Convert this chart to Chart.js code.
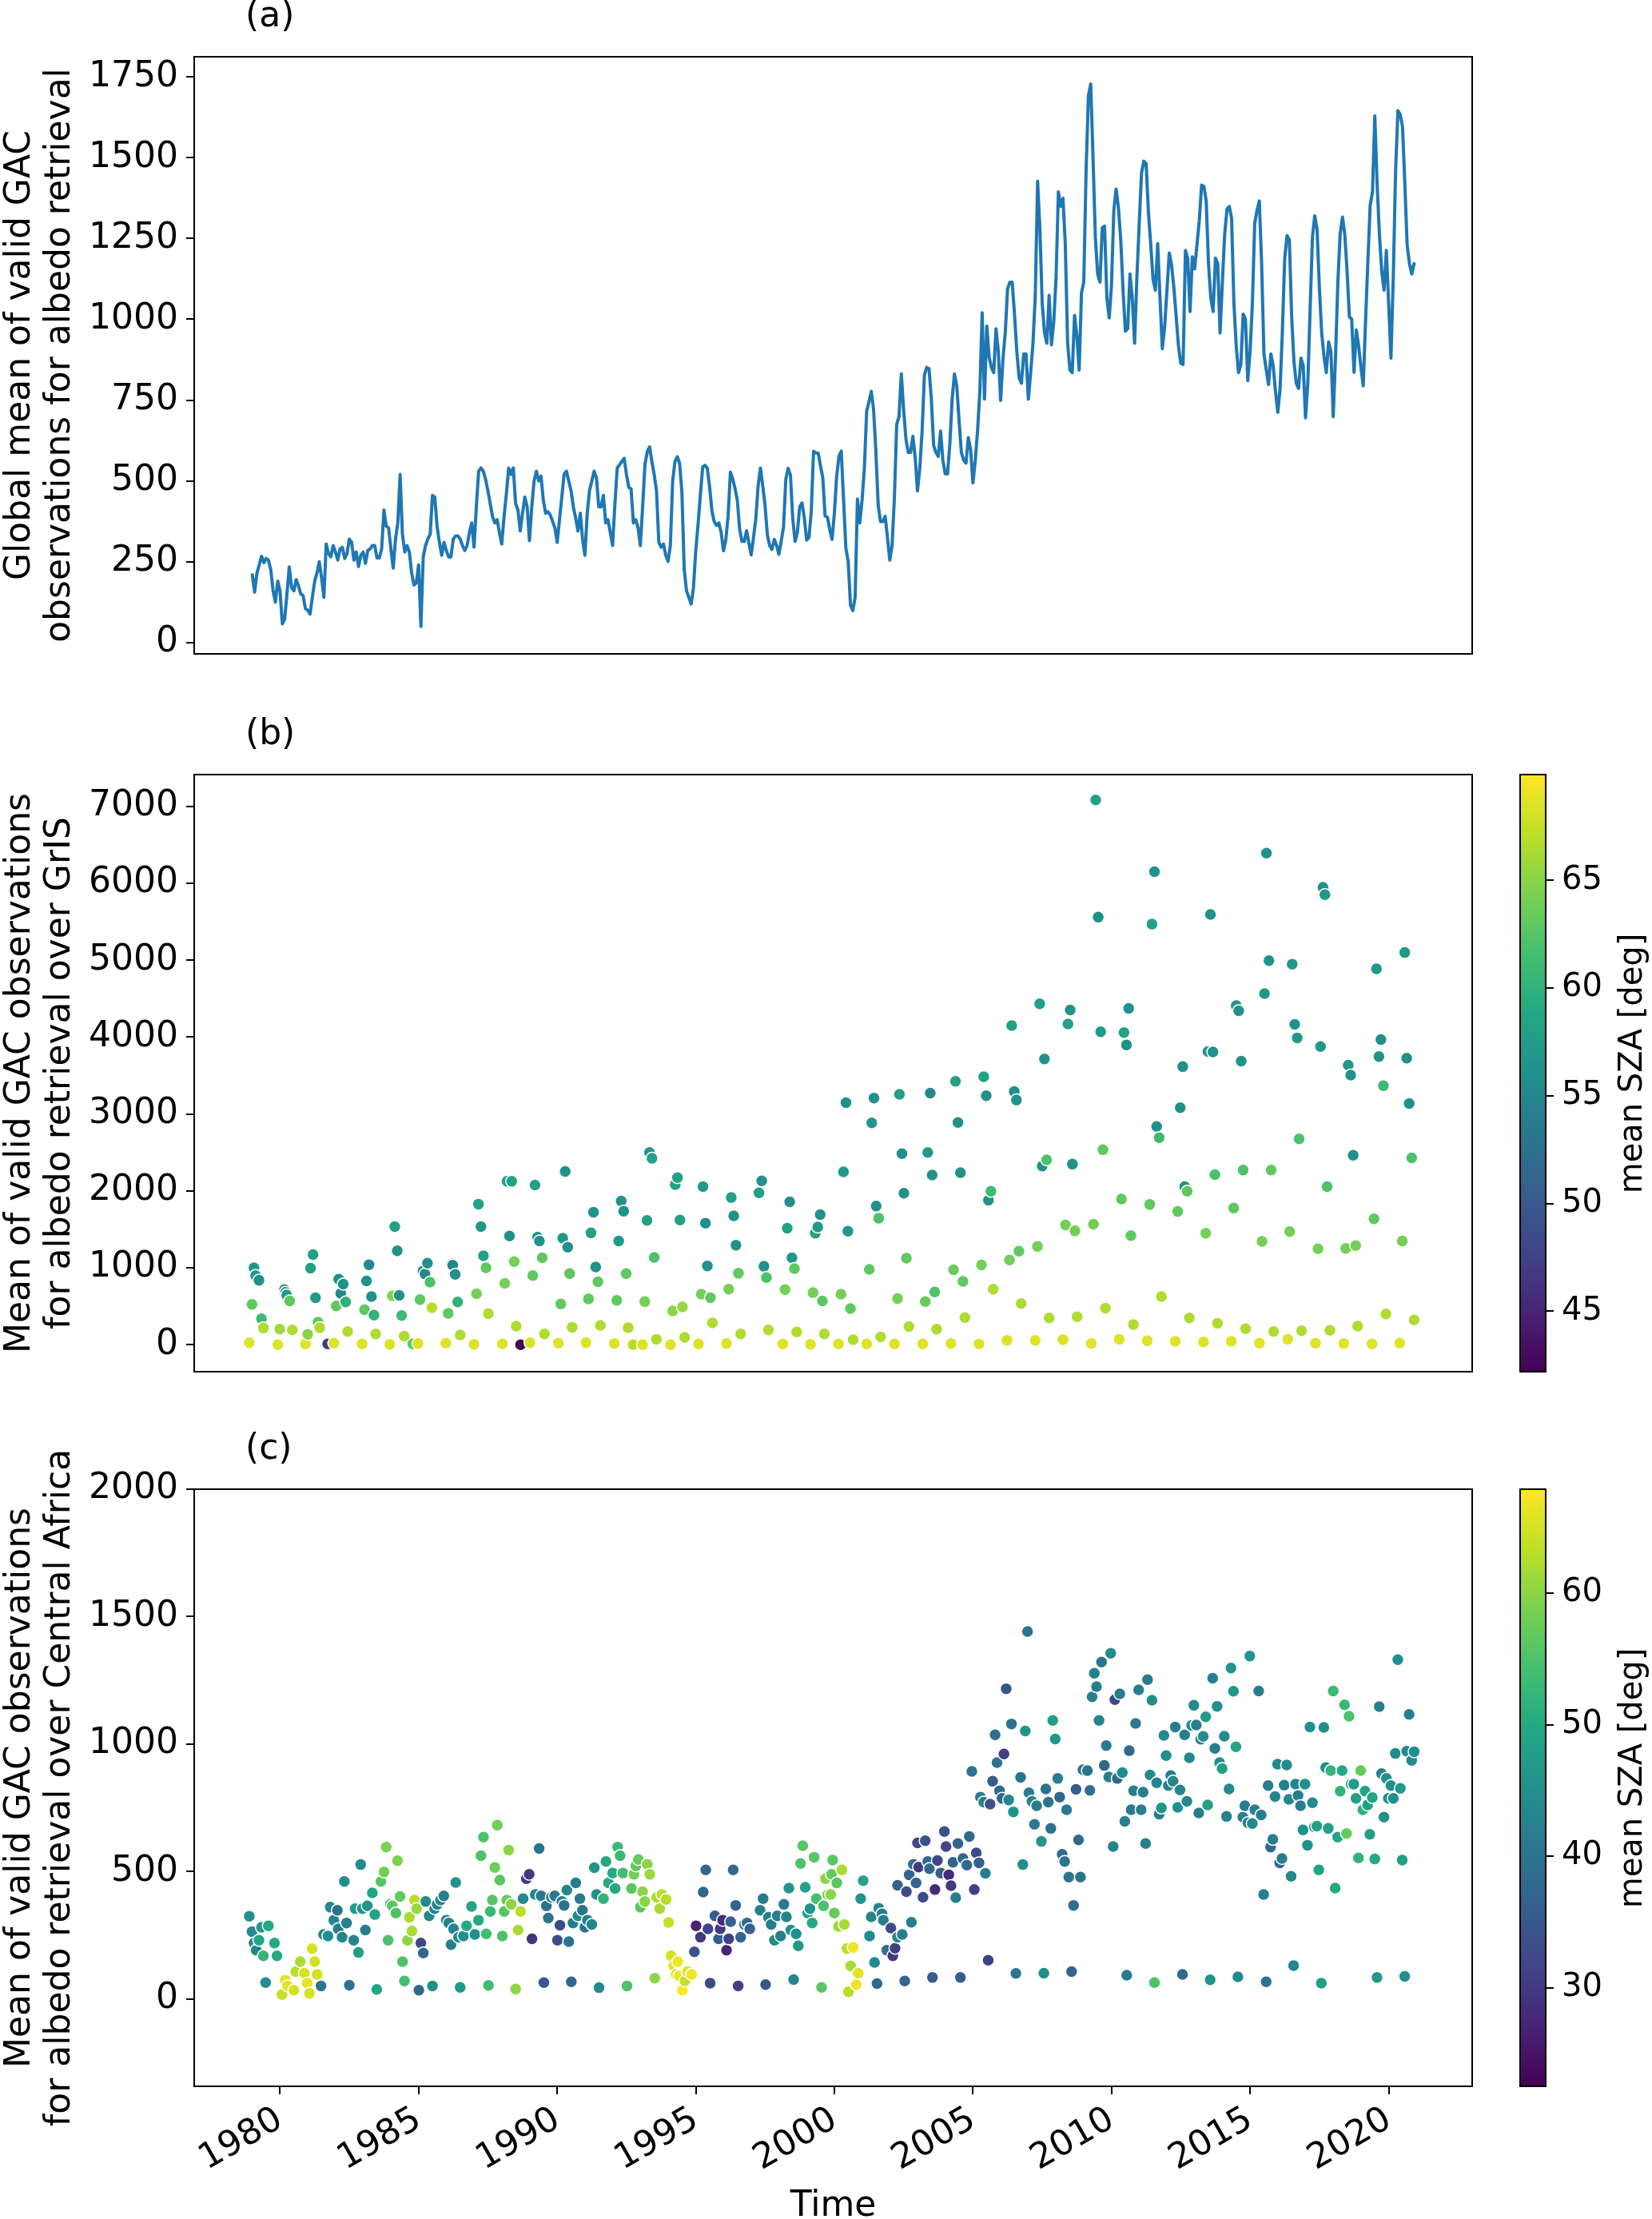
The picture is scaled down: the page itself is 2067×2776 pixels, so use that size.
<!DOCTYPE html>
<html>
<head>
<meta charset="utf-8">
<script src="https://cdn.jsdelivr.net/npm/chart.js@4.4.1/dist/chart.umd.min.js"></script>
<style>
  html, body { margin: 0; padding: 0; background: #fff; }
  body { width: 2067px; height: 2776px; position: relative; overflow: hidden; }
  canvas { position: absolute; }
</style>
</head>
<body>
<canvas id="panelA" width="1852" height="858" style="left:0;top:0"></canvas>
<canvas id="panelB" width="1852" height="876" style="left:0;top:880px"></canvas>
<canvas id="barB" width="187" height="876" style="left:1880px;top:880px"></canvas>
<canvas id="panelC" width="1852" height="1006" style="left:0;top:1770px"></canvas>
<canvas id="barC" width="187" height="1006" style="left:1880px;top:1770px"></canvas>
<script>
const FONT = 'DejaVu Sans';

// (a) global monthly mean, Jan 1979 .. Dec 2020
const startYear = 1979;
const globalCounts = [
  210,156,215,240,267,247,260,255,225,160, 125,190,160,58,72,150,234,170,160,195,
  175,150,145,105,100,88,140,190,215,250, 200,140,305,275,265,300,280,255,290,295,
  260,275,320,310,255,280,235,270,280,245, 285,290,300,300,262,262,290,410,360,355,
  290,230,320,370,520,335,280,300,280,215, 178,185,240,50,265,300,320,335,455,450,
  360,310,270,310,285,265,265,320,330,330, 320,300,285,300,340,370,295,420,530,540,
  530,505,470,430,390,370,380,340,305,390, 460,540,520,540,430,410,345,400,450,420,
  315,420,500,530,500,515,440,400,405,395, 375,355,310,380,450,520,530,500,470,420,
  385,345,400,320,270,400,470,500,530,510, 420,420,455,370,380,340,300,430,540,550,
  560,570,520,480,475,370,380,355,300,420, 550,590,605,560,520,470,310,295,305,270,
  251,300,500,560,575,
  555,465,226,160,140,119,169,284,366,457, 543,548,539,481,407,374,362,370,341,284,
  317,391,527,506,477,440,350,313,313,346, 308,271,325,383,485,540,485,424,333,300,
  288,319,300,273,313,358,506,539,518,383, 313,341,420,432,386,317,325,403,592,586,
  586,547,510,391,388,350,319,399,514,576, 592,440,292,251,115,99,140,444,370,440,
  539,716,745,777,720,588,424,374,374,391, 325,255,300,448,675,699,831,720,629,588,
  588,638,572,469,539,654,827,851,847,753, 609,588,576,654,564,522,522,613,753,831,
  794,687,588,564,555,634,597,494,561,654, 777,1020,753,979,884,851,835,971,901,749,
  876,958,1094,1115,1115,1016,901,819,802,893, 893,753,835,925,
  1074,1427,1279,1049,958,926,1074,921,991,
  1131,1394,1349,1374,1230,926,843,835,1012,950, 843,1082,1115,1460,1691,1728,1501,1254,1140,1115,
  1283,1288,1065,1004,1106,1337,1403,1345,1246,1090, 963,971,1140,1065,926,1131,1296,1452,1489,1481,
  1329,1230,1123,1090,1234,1065,909,975,1090,1205, 1168,1098,1008,917,864,860,1213,1189,1024,
  1193,1156,1230,1304,1415,1411,1366,1172,1065,1024, 1189,1172,958,1115,1263,1341,1349,1312,1049,
  917,835,860,1016,1000,810,901,1049,1296,1337, 1366,1172,893,843,798,893,856,777,712,786,
  967,1189,1259,1246,1008,868,802,786,880, 856,695,802,1032,1254,1320,1279,1098,958,885,
  835,930,901,699,885,1115,1263,1316,1263,1148, 1008,1000,836,967,917,851,794,995,1180,1353,
  1394,1629,1419,1263,1148,1090,1213,1049,880,1131, 1460,1645,1633,1596,1419,1230,1172,1140,1172
];

// (b) Greenland: time, count, mean SZA
const gisYear = [
  1978.89,1978.99,1979.06,1979.12,1979.24,1979.33,1979.40,
  1979.92,1979.99,1980.16,1980.20,1980.24,1980.35,1980.44,
  1980.92,1981.00,1981.10,1981.19,1981.28,1981.37,1981.43,
  1981.72,1981.94,1982.03,1982.12,1982.19,1982.28,1982.37,1982.44,
  1982.96,1983.05,1983.12,1983.21,1983.30,1983.39,1983.45,
  1983.96,1984.05,1984.14,1984.23,1984.30,1984.39,1984.48,
  1984.79,1984.98,1985.05,1985.16,1985.23,1985.32,1985.41,1985.48,
  1985.98,1986.07,1986.20,1986.23,1986.32,1986.41,1986.50,
  1987.00,1987.09,1987.16,1987.25,1987.34,1987.43,1987.52,
  1988.02,1988.11,1988.19,1988.28,1988.36,1988.45,1988.52,1988.68,
  1989.02,1989.12,1989.20,1989.29,1989.36,1989.46,1989.54,
  1990.04,1990.13,1990.20,1990.29,1990.38,1990.45,1990.54,
  1991.04,1991.13,1991.22,1991.31,1991.39,1991.47,1991.56,
  1992.06,1992.15,1992.22,1992.31,1992.40,1992.49,1992.56,1992.74,
  1993.08,1993.16,1993.24,1993.33,1993.42,1993.50,1993.58,
  1994.09,1994.17,1994.26,1994.34,1994.43,1994.52,1994.60,
  1995.10,1995.20,1995.26,1995.35,1995.42,1995.53,1995.60,
  1996.11,1996.19,1996.28,1996.37,1996.45,1996.54,1996.62,
  1997.28,1997.38,1997.46,1997.55,1997.62,
  1998.14,1998.22,1998.30,1998.39,1998.47,1998.56,1998.64,
  1999.14,1999.23,1999.31,1999.40,1999.49,1999.57,1999.64,
  2000.15,2000.24,2000.33,2000.42,2000.49,2000.58,2000.68,
  2001.17,2001.26,2001.35,2001.43,2001.51,2001.60,2001.67,
  2002.17,2002.28,2002.35,2002.44,2002.51,2002.60,2002.69,
  2003.19,2003.28,2003.37,2003.46,2003.53,2003.62,2003.69,
  2004.21,2004.30,2004.37,2004.46,2004.55,2004.64,2004.71,
  2005.22,2005.31,2005.39,2005.48,2005.56,2005.65,2005.73,
  2006.23,2006.32,2006.40,2006.49,2006.57,2006.66,2006.74,
  2007.25,2007.33,2007.41,2007.50,2007.58,2007.66,2007.75,
  2008.25,2008.34,2008.43,2008.51,2008.59,2008.68,2008.76,
  2009.27,2009.35,2009.43,2009.52,2009.61,2009.69,2009.78,
  2010.28,2010.36,2010.45,2010.54,2010.62,2010.70,2010.79,
  2011.29,2011.38,2011.46,2011.55,2011.63,2011.72,2011.80,
  2012.30,2012.39,2012.48,2012.57,2012.64,2012.73,2012.81,
  2013.32,2013.40,2013.48,2013.57,2013.66,2013.73,2013.82,
  2014.32,2014.41,2014.50,2014.59,2014.68,2014.75,2014.84,
  2015.34,2015.43,2015.52,2015.59,2015.68,2015.76,2015.85,
  2016.36,2016.43,2016.52,2016.61,2016.70,2016.77,2016.86,
  2017.36,2017.45,2017.54,2017.63,2017.70,2017.78,2017.88,
  2018.38,2018.45,2018.54,2018.63,2018.72,2018.81,2018.88,
  2019.40,2019.47,2019.56,2019.65,2019.72,2019.81,2019.90,
  2020.40,2020.49,2020.58,2020.65,2020.74,2020.83,2020.92
];
const gisCount = [
  25,525,1000,900,838,338,217,
  0,202,717,680,646,570,192,
  10,136,995,1172,611,293,222,
  10,20,505,853,667,788,556,172,
  10,455,828,1040,626,384,141,
  5,636,1535,1222,641,379,111,
  10,15,586,960,919,1060,813,480,
  20,409,1050,1035,914,556,126,
  5,662,1828,1535,1156,1000,404,
  10,798,2126,1414,2126,1081,242,0,
  25,899,2076,1399,1348,1131,141,
  20,530,1384,2252,1268,924,227,
  25,596,1454,1722,1010,818,252,
  15,576,1348,1868,1737,924,222,0,
  0,560,1616,2500,2424,1136,71,
  0,439,2081,2172,1621,490,96,
  10,657,2055,1581,1025,611,283,
  15,722,1914,1677,1293,929,141,
  1975,2131,1020,874,192,
  10,717,1515,1858,1131,990,167,
  5,677,1449,1530,1692,570,141,
  10,657,2247,3146,1475,470,66,
  10,979,2884,3207,1803,1646,101,
  10,601,3257,2485,1970,1126,237,
  10,561,2500,3272,2207,687,202,
  15,975,3424,2889,2237,823,354,
  10,1036,3485,3237,1879,1995,722,
  56,1101,4151,3293,3182,1217,535,
  56,1278,4434,2323,3717,2404,349,
  66,1556,4171,4353,2348,1480,364,
  15,1566,7085,5560,4070,2535,475,
  71,1894,4060,3899,4373,1419,263,
  51,1823,5469,6151,2838,2692,626,
  45,1732,3081,3616,2055,1995,348,
  35,1449,3813,5595,3808,2212,278,
  45,1778,4409,4343,3687,2272,207,
  20,1343,4565,6393,4994,2272,172,
  71,1470,4949,4166,3990,2677,182,
  20,1247,3878,5949,5853,2055,187,
  15,1252,3636,3505,2464,1288,242,
  10,1636,4888,3747,3969,3368,399,
  20,1348,5100,3727,3136,2429,323
];
const gisSza = [
  68.5,63,57,57,56,61,66.5,
  68.5,66,56,56,57,63,66.5,
  68.5,65,58,58,57,63,66.5,
  47,68.5,63,56,55,56,60,66.5,
  68.5,63,56,55,56,60,66.5,
  68.5,64.5,58,56,56,61,66.5,
  63,68.5,63,56,55,56,62,67,
  68.5,63,55,55,56,60,66.5,
  68.5,64,58,57,58,63,66.5,
  68.5,64,58,56,58,64,66.5,42.3,
  68.5,63,58,56,56,63,66.5,
  68.5,63,57,56,56,63,66.5,
  68.5,63,58,56,56,63,66.5,
  68.5,63,57,56,56,63,66.5,67,
  68.5,64,58,57,58,62,66.5,
  68.5,65,58,58,58,65.5,66.5,
  68.5,64,57,56,56,63,66.5,
  68.5,64,58,56,56,63,66.5,
  58,56,56,62,66.5,
  68.5,64,58,56,57,63,66.5,
  68.5,64,58,57,56,63,66.5,
  68.5,64,57,56,57,63,66.5,
  68.5,63,57,56,56,62,66.5,
  68.5,64,58,56,56,63,66.5,
  68.5,63.5,57,55,56,62,66.5,
  68.5,63.5,58,56,56,63,66.5,
  68.5,64,58,56,56,61,66.5,
  68.5,64,58,56,56,63,66.5,
  68.5,64,58,56,56,62,66.5,
  68.5,64,58,56,56,64,66.5,
  68.5,64,58,56,57,63,66.5,
  68.5,63,58,56,56,63,66.5,
  68.5,63,58,56,56,61,66.5,
  68.5,63,56,56,56,63,66.5,
  68.5,64,57,56,56,62,66.5,
  68.5,63,56,56,56,62,66.5,
  68.5,64,57,56,56,63,66.5,
  68.5,64,57,56,57,62,66.5,
  68.5,64,57,56,57,62,66.5,
  68.5,64,57,56,56,64,66.5,
  68.5,63,57,56,56,61,66.5,
  68.5,64,57,56,56,62,66.5
];

// (c) Central Africa: time, count, mean SZA
const cafYear = [
  1978.89,1978.99,1979.06,1979.14,1979.24,1979.33,1979.40,1979.48,1979.58,1979.80,1979.89,
  1980.07,1980.19,1980.27,1980.50,1980.57,1980.73,1980.88,1980.98,1981.06,1981.16,1981.25,1981.34,
  1981.48,1981.57,1981.73,1981.81,1981.94,1982.07,1982.10,1982.24,1982.32,1982.40,1982.50,
  1982.66,1982.71,1982.83,1982.91,1982.97,1983.08,1983.15,1983.33,1983.42,1983.49,
  1983.64,1983.75,1983.83,1983.90,1983.98,1984.05,1984.18,1984.24,1984.33,1984.42,
  1984.49,1984.60,1984.67,1984.76,1984.85,1984.93,1985.01,1985.08,1985.17,
  1985.26,1985.38,1985.50,1985.58,1985.67,1985.79,1985.91,1986.00,1986.09,1986.17,
  1986.26,1986.34,1986.44,1986.50,1986.62,1986.73,1986.91,1987.03,1987.16,
  1987.25,1987.34,1987.44,1987.52,1987.59,1987.66,1987.75,1987.84,1987.93,
  1988.02,1988.09,1988.18,1988.25,1988.34,1988.50,1988.59,1988.68,
  1988.77,1988.89,1988.99,1989.09,1989.21,1989.35,1989.42,1989.52,1989.61,1989.68,
  1989.79,1989.91,1990.01,1990.10,1990.17,1990.25,1990.35,1990.42,1990.51,1990.57,
  1990.67,1990.75,1990.82,1990.91,1991.00,1991.09,1991.25,
  1991.34,1991.42,1991.51,1991.67,1991.76,1991.85,1992.00,1992.09,1992.18,1992.27,
  1992.37,1992.52,1992.68,1992.77,1992.84,1992.93,1993.00,1993.08,1993.16,1993.25,
  1993.34,1993.52,1993.59,1993.70,1993.78,1993.93,1994.02,
  1994.11,1994.20,1994.29,1994.35,1994.40,1994.52,1994.61,1994.70,1994.85,
  1994.95,1995.01,1995.17,1995.27,1995.36,1995.44,1995.52,1995.69,1995.82,1995.88,
  1995.97,1996.11,1996.19,1996.26,1996.35,1996.44,1996.53,1996.62,1996.76,1996.85,1996.95,
  1997.32,1997.43,1997.52,1997.62,1997.72,1997.84,1997.94,1998.06,1998.18,1998.27,
  1998.36,1998.43,1998.53,1998.62,1998.70,1998.78,1998.86,1998.95,1999.04,1999.12,
  1999.20,1999.27,1999.35,1999.54,1999.61,1999.68,1999.76,
  1999.87,1999.90,1999.94,2000.00,2000.09,2000.15,2000.27,2000.36,2000.45,2000.51,
  2000.59,2000.68,2000.79,2000.86,2000.95,2001.04,
  2001.27,2001.33,2001.45,2001.54,2001.60,2001.72,2001.77,2001.89,2002.04,2002.11,
  2002.19,2002.28,2002.28,2002.45,2002.54,
  2002.60,2002.70,2002.78,2002.85,2002.95,2003.00,2003.04,2003.20,2003.28,2003.37,
  2003.43,2003.54,2003.63,2003.72,2003.84,2003.97,2004.03,2004.13,2004.21,2004.28,
  2004.38,2004.46,2004.55,2004.64,2004.78,2004.87,
  2004.96,2005.05,2005.12,2005.22,2005.27,2005.39,2005.45,2005.55,2005.62,2005.71,
  2005.80,2005.87,2005.96,2006.05,2006.12,2006.20,2006.29,2006.39,2006.46,2006.55,
  2006.72,2006.80,2006.89,2006.97,
  2007.02,2007.13,2007.22,2007.30,2007.47,2007.56,2007.63,2007.72,2007.81,2007.88,
  2007.97,2008.06,2008.13,2008.22,2008.31,2008.38,2008.46,2008.56,2008.63,2008.72,
  2008.81,2008.88,
  2008.97,2009.13,2009.22,2009.30,2009.38,2009.46,2009.55,2009.64,2009.74,2009.81,
  2009.90,2009.97,2010.06,2010.12,2010.21,2010.30,2010.39,2010.48,2010.55,2010.64,
  2010.71,2010.80,2010.87,2010.98,
  2011.07,2011.14,2011.23,2011.30,2011.39,2011.46,2011.55,2011.63,2011.72,2011.80,
  2011.89,2011.97,2012.05,2012.14,2012.22,2012.30,2012.39,2012.47,2012.56,2012.64,
  2012.72,2012.81,2012.89,2012.97,
  2013.06,2013.15,2013.22,2013.31,2013.40,2013.47,2013.56,2013.65,2013.73,2013.81,
  2013.90,2013.99,2014.07,2014.15,2014.24,2014.31,2014.40,2014.49,2014.56,2014.74,
  2014.81,2014.92,2014.99,
  2015.08,2015.17,2015.31,2015.40,2015.49,2015.58,2015.65,2015.74,2015.82,2015.90,
  2015.99,2016.07,2016.15,2016.23,2016.32,2016.40,2016.48,2016.57,2016.64,2016.73,
  2016.82,2016.91,2016.98,
  2017.07,2017.16,2017.25,2017.32,2017.41,2017.48,2017.57,2017.66,2017.73,2017.82,
  2017.91,2018.00,2018.07,2018.16,2018.25,2018.32,2018.41,2018.48,2018.57,2018.65,
  2018.74,2018.82,2018.91,2018.99,2019.07,2019.15,2019.24,2019.32,2019.41,2019.50,
  2019.58,2019.66,2019.74,2019.83,2019.92,2019.99,2020.08,2020.17,2020.24,2020.33,
  2020.42,2020.49,2020.58,2020.65,2020.74,2020.83,2020.92
];
const cafCount = [
  324,264,219,191,230,281,169,64,287,219,169,
  17,73,51,34,107,146,101,62,22,197,146,96,
  51,253,247,360,309,348,275,242,461,298,54,
  230,354,182,527,354,270,365,416,331,37,
  461,498,596,230,371,365,337,542,402,146,
  70,230,320,266,388,354,34,219,180,
  382,326,51,354,371,388,404,309,298,213,
  275,457,242,45,247,287,363,253,309,
  562,635,255,53,343,388,516,682,466,
  247,343,388,584,371,39,270,343,
  393,472,489,236,410,590,404,64,365,317,
  399,404,230,289,382,367,427,225,67,298,
  455,326,393,348,281,309,292,
  515,410,44,393,539,455,494,433,596,562,
  494,51,433,489,522,547,360,421,382,528,
  489,81,399,354,410,390,300,
  169,129,96,146,90,34,71,107,96,
  185,287,242,419,506,275,62,326,236,275,
  309,191,236,303,506,367,51,242,292,298,275,
  348,393,56,320,292,230,326,247,371,322,
  435,270,76,255,208,531,601,438,337,354,
  298,556,393,45,365,472,410,
  410,489,545,337,455,284,506,292,197,28,
  129,202,56,101,393,464,
  247,322,143,60,356,334,309,191,278,169,
  199,242,446,253,70,
  421,487,301,528,455,612,517,399,621,539,
  511,84,429,543,494,657,598,487,444,536,
  397,610,84,551,525,637,
  893,429,573,534,792,772,493,152,764,854,
  1036,927,817,787,961,1217,781,1079,734,100,
  869,527,1051,1442,
  809,775,685,758,618,101,824,772,669,1093,
  1020,865,792,567,539,742,478,107,367,822,
  624,478,
  899,896,818,1185,1278,1225,1093,1322,916,994,
  871,1356,598,1174,865,1197,888,697,93,974,
  742,817,1081,1213,
  742,811,610,1253,879,1172,64,848,725,749,
  1034,955,837,876,854,1067,752,820,96,1036,
  775,946,1073,1152,
  1075,730,1019,1030,1107,761,75,1258,983,1148,
  927,904,1031,716,824,1298,1207,989,87,713,
  758,691,1345,
  688,742,1208,722,410,67,837,596,626,794,
  921,534,551,839,918,783,481,131,843,798,
  758,663,843,
  603,1067,770,675,678,506,62,1065,908,669,
  896,1208,435,635,815,896,1154,649,1109,843,
  843,787,553,896,742,815,761,646,790,549,
  84,1147,884,713,865,787,837,787,963,1331,
  826,545,88,972,1116,936,970
];
const cafSza = [
  45,44,44,43,49,47,52,45,50,50,50,
  64,66,66,65,63,62,65,66,65,65,65,65,
  40,44,45,44,43,40,42,43,45,42,40,
  43,47,48,44,46,42,46,49,49,49,
  56,58,59,55,55,56,55,59,57,55,
  54,60,62,62,63,61,38,32,38,
  44,44,45,43,43,43,42,42,42,42,
  43,46,44,47,45,50,49,45,50,
  55,55,54,54,53,56,58,58,56,
  55,56,57,60,60,60,62,63,
  44,30,30,29,43,40,41,35,40,40,
  41,41,33,33,42,40,43,40,38,42,
  42,44,41,40,40,42,43,
  46,45,44,52,50,50,50,50,53,53,
  54,55,56,58,57,57,56,60,60,60,
  61,60,62,62,63,63,64,
  65,66,66,67,67,68,64,66,67,
  34,27,30,38,38,32,33,36,36,30,
  28,27,31,37,38,37,31,37,38,38,37,
  42,41,35,42,42,44,42,42,41,43,
  46,45,43,45,47,55,56,48,48,46,
  50,56,54,56,55,60,59,
  60,57,56,57,56,61,62,62,63,63,
  62,67,67,66,46,49,
  44,43,44,38,43,42,42,39,33,30,
  31,43,37,42,37,
  33,37,42,38,37,32,30,33,34,38,
  38,36,28,32,36,34,32,28,30,37,
  42,37,36,37,38,38,
  40,31,33,36,41,42,42,31,34,36,
  39,40,38,37,31,34,43,40,46,40,
  40,45,46,40,
  42,43,41,42,46,45,40,40,40,48,
  46,42,37,39,40,41,40,37,39,36,
  38,40,
  40,40,39,42,42,42,43,40,38,41,
  42,44,43,33,38,41,44,42,41,38,
  41,42,41,42,
  42,42,42,41,44,45,55,43,42,46,
  44,45,43,42,43,42,45,43,38,42,
  44,44,43,44,
  42,42,41,44,47,48,46,42,42,45,
  45,48,44,42,44,46,47,49,44,42,
  42,42,46,
  44,42,42,42,42,40,42,38,42,43,
  44,38,42,42,44,44,44,43,43,42,
  42,45,45,
  45,45,44,48,48,49,48,45,45,48,
  52,53,50,49,52,50,53,57,55,45,
  47,48,52,57,52,49,48,48,49,50,
  47,42,43,45,45,45,45,45,44,45,
  47,48,45,44,42,44,45
];

// axes: ranges and ticks
const xRange = [1976.904, 2023.013];
const yearTicks = [1980, 1985, 1990, 1995, 2000, 2005, 2010, 2015, 2020];
const yearTickLabels = ['1980', '1985', '1990', '1995', '2000', '2005', '2010', '2015', '2020'];
const aRange = [-35, 1812];
const aTicks = [0, 250, 500, 750, 1000, 1250, 1500, 1750];
const aTickLabels = ['0', '250', '500', '750', '1000', '1250', '1500', '1750'];
const bRange = [-351, 7414];
const bTicks = [0, 1000, 2000, 3000, 4000, 5000, 6000, 7000];
const bTickLabels = ['0', '1000', '2000', '3000', '4000', '5000', '6000', '7000'];
const cRange = [-343, 2000];
const cTicks = [0, 500, 1000, 1500, 2000];
const cTickLabels = ['0', '500', '1000', '1500', '2000'];
const bSzaRange = [42.2, 69.9];
const bSzaTicks = [45, 50, 55, 60, 65];
const bSzaTickLabels = ['45', '50', '55', '60', '65'];
const cSzaRange = [22.5, 67.9];
const cSzaTicks = [30, 40, 50, 60];
const cSzaTickLabels = ['30', '40', '50', '60'];

// viridis colormap
const viridisStops = ['#440154', '#482475', '#414487', '#355f8d', '#2a788e', '#21918c',
                      '#22a884', '#44bf70', '#7ad151', '#bddf26', '#fde725'];
function hexToRgb(h) {
    return [parseInt(h.slice(1, 3), 16), parseInt(h.slice(3, 5), 16), parseInt(h.slice(5, 7), 16)];
}
function viridis(t) {
    if (!isFinite(t)) t = 0.5;
    t = Math.min(1, Math.max(0, t));
    const f = t * 10;
    const i = Math.min(9, Math.floor(f));
    const u = f - i;
    const a = hexToRgb(viridisStops[i]);
    const b = hexToRgb(viridisStops[i + 1]);
    const c = a.map((v, k) => Math.round(v + (b[k] - v) * u));
    return 'rgb(' + c.join(',') + ')';
}

// frame around the plot area
const frame = {
    id: 'frame',
    afterDatasetsDraw(chart) {
        const { ctx, chartArea: a } = chart;
        ctx.save();
        ctx.strokeStyle = '#000';
        ctx.lineWidth = 2;
        ctx.strokeRect(a.left, a.top, a.right - a.left, a.bottom - a.top);
        ctx.restore();
    }
};

// "(a)", "(b)", "(c)" above each panel
const panelTag = {
    id: 'panelTag',
    afterDraw(chart, args, opts) {
        if (!opts || !opts.text) return;
        const { ctx, chartArea: a } = chart;
        ctx.save();
        ctx.fillStyle = '#000';
        ctx.font = '44px "' + FONT + '"';
        ctx.textAlign = 'left';
        ctx.textBaseline = 'middle';
        ctx.fillText(opts.text, a.left + 64, a.top - 49);
        ctx.restore();
    }
};

// colour bar fill, outline and label
const colorRamp = {
    id: 'colorRamp',
    beforeDatasetsDraw(chart, args, opts) {
        const { ctx, chartArea: a } = chart;
        ctx.save();
        const g = ctx.createLinearGradient(0, a.bottom, 0, a.top);
        viridisStops.forEach((c, i) => g.addColorStop(i / 10, c));
        ctx.fillStyle = g;
        ctx.fillRect(a.left, a.top, a.right - a.left, a.bottom - a.top);
        ctx.strokeStyle = '#000';
        ctx.lineWidth = 2;
        ctx.strokeRect(a.left, a.top, a.right - a.left, a.bottom - a.top);
        ctx.translate(opts.labelX, (a.top + a.bottom) / 2 - 12);
        ctx.rotate(-Math.PI / 2);
        ctx.fillStyle = '#000';
        ctx.font = '40px "' + FONT + '"';
        ctx.textAlign = 'center';
        ctx.textBaseline = 'middle';
        ctx.fillText(opts.label, 0, 0);
        ctx.restore();
    }
};

const tickGrid = {
    display: true, drawOnChartArea: false, drawTicks: true,
    tickLength: 10, tickWidth: 2, tickColor: '#000', color: '#000', lineWidth: 2
};

function yAxis(range, ticks, labels, title, position, width, fontSize) {
    return {
        type: 'linear', position: position, min: range[0], max: range[1],
        afterBuildTicks: s => { s.ticks = ticks.map(v => ({ value: v })); },
        afterFit: s => { s.width = width; },
        ticks: {
            autoSkip: false, padding: 10, color: '#000',
            font: { family: FONT, size: fontSize },
            callback: (v, i) => labels[i]
        },
        grid: tickGrid,
        border: { display: false },
        title: title
            ? { display: true, text: title, color: '#000', padding: 0,
                font: { family: FONT, size: 44, lineHeight: 1.15 } }
            : { display: false }
    };
}

function hiddenX() {
    return { type: 'linear', display: false, min: xRange[0], max: xRange[1] };
}

const common = {
    responsive: false, animation: false, devicePixelRatio: 1, events: [],
};

// (a) line
new Chart(document.getElementById('panelA'), {
    type: 'line',
    data: {
        datasets: [{
            data: globalCounts.map((v, i) => ({ x: startYear + i / 12, y: v })),
            borderColor: '#1f77b4', borderWidth: 4, pointRadius: 0,
            borderJoinStyle: 'round', borderCapStyle: 'round',
            fill: false, tension: 0
        }]
    },
    options: Object.assign({}, common, {
        layout: { padding: { top: 71, right: 10, bottom: 40, left: 0 } },
        plugins: { legend: { display: false }, tooltip: { enabled: false }, panelTag: { text: '(a)' } },
        scales: {
            x: hiddenX(),
            y: yAxis(aRange, aTicks, aTickLabels,
                ['Global mean of valid GAC', 'observations for albedo retrieval'], 'left', 243, 44)
        }
    }),
    plugins: [frame, panelTag]
});

function scatterSet(years, counts, sza, szaRange) {
    return {
        data: years.map((x, i) => ({ x: x, y: counts[i] })),
        backgroundColor: sza.map(s => viridis((s - szaRange[0]) / (szaRange[1] - szaRange[0]))),
        borderColor: '#fff', borderWidth: 1.5,
        pointRadius: 7.5, pointHoverRadius: 7.5
    };
}

// (b) Greenland scatter
new Chart(document.getElementById('panelB'), {
    type: 'scatter',
    data: { datasets: [scatterSet(gisYear, gisCount, gisSza, bSzaRange)] },
    options: Object.assign({}, common, {
        layout: { padding: { top: 89, right: 10, bottom: 40, left: 0 } },
        plugins: { legend: { display: false }, tooltip: { enabled: false }, panelTag: { text: '(b)' } },
        scales: {
            x: hiddenX(),
            y: yAxis(bRange, bTicks, bTickLabels,
                ['Mean of valid GAC observations', 'for albedo retrieval over GrIS'], 'left', 243, 44)
        }
    }),
    plugins: [frame, panelTag]
});

// (c) Central Africa scatter
new Chart(document.getElementById('panelC'), {
    type: 'scatter',
    data: { datasets: [scatterSet(cafYear, cafCount, cafSza, cSzaRange)] },
    options: Object.assign({}, common, {
        layout: { padding: { top: 93, right: 10, bottom: 0, left: 0 } },
        plugins: { legend: { display: false }, tooltip: { enabled: false }, panelTag: { text: '(c)' } },
        scales: {
            x: {
                type: 'linear', min: xRange[0], max: xRange[1],
                afterBuildTicks: s => { s.ticks = yearTicks.map(v => ({ value: v })); },
                afterFit: s => { s.height = 166; },
                ticks: {
                    autoSkip: false, padding: 6, color: '#000', minRotation: 30, maxRotation: 30,
                    font: { family: FONT, size: 44 },
                    callback: (v, i) => yearTickLabels[i]
                },
                grid: tickGrid,
                border: { display: false },
                title: { display: true, text: 'Time', color: '#000', padding: 0,
                         font: { family: FONT, size: 44, lineHeight: 0.7 } }
            },
            y: yAxis(cRange, cTicks, cTickLabels,
                ['Mean of valid GAC observations', 'for albedo retrieval over Central Africa'], 'left', 243, 44)
        }
    }),
    plugins: [frame, panelTag]
});

// colour bars
function colorBar(id, range, ticks, labels, padTop, padBottom) {
    new Chart(document.getElementById(id), {
        type: 'scatter',
        data: { datasets: [] },
        options: Object.assign({}, common, {
            layout: { padding: { top: padTop, right: 0, bottom: padBottom, left: 22 } },
            plugins: {
                legend: { display: false }, tooltip: { enabled: false },
                colorRamp: { label: 'mean SZA [deg]', labelX: 164 }
            },
            scales: {
                x: { type: 'linear', display: false, min: 0, max: 1 },
                y: yAxis(range, ticks, labels, null, 'right', 133, 40)
            }
        }),
        plugins: [colorRamp]
    });
}
colorBar('barB', bSzaRange, bSzaTicks, bSzaTickLabels, 89, 40);
colorBar('barC', cSzaRange, cSzaTicks, cSzaTickLabels, 93, 166);
</script>
</body>
</html>
